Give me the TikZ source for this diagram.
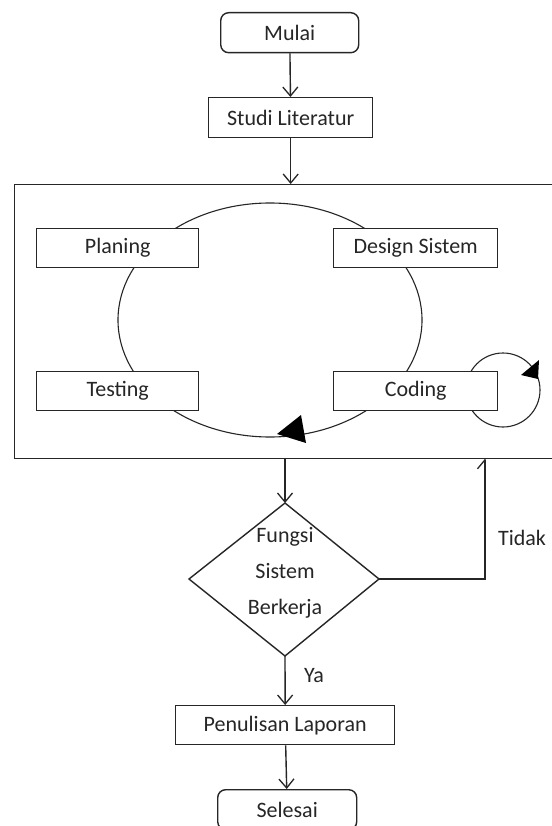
\documentclass[tikz,border=0pt]{standalone}
\usepackage{fontspec}
\setmainfont{Carlito}
\usetikzlibrary{arrows.meta}
\begin{document}
\begin{tikzpicture}[x=1pt,y=-1pt,
  line width=1.4pt, draw=black!85,
  every node/.style={font=\fontsize{22}{26}\selectfont, text=black!85},
  box/.style={draw, fill=white, inner sep=0pt, anchor=north west},
  term/.style={box, rounded corners=8pt},
  cycleline/.style={line width=1.1pt},
  flow/.style={-{Straight Barb[length=9pt,width=15pt,line width=1.3pt]}},
  back/.style={-{Straight Barb[length=9pt,width=15pt,line width=1.3pt,harpoon]}},
  head/.style={fill=black, draw=none}
]
\useasboundingbox (0,0) rectangle (551,826);
\fill[white] (0,0) rectangle (551,826);

% main flow boxes
\node[term, minimum width=138pt, minimum height=40pt] (mulai) at (220,12) {Mulai};
\node[box, minimum width=164pt, minimum height=40pt] (studi) at (208,97) {Studi Literatur};

% process frame (runs past the right edge)
\node[box, fill=none, minimum width=560pt, minimum height=274pt] (frame) at (14,184) {};

% development cycle
\draw[cycleline] (270,320) ellipse [x radius=152, y radius=117];
\draw[cycleline] (503,390) circle [radius=37];
\fill[head] (277,434) -- (301,415) -- (306,443) -- cycle;
\fill[head] (521,375) -- (539,360) -- (538,379) -- cycle;

\node[box, minimum width=162pt, minimum height=39pt] (plan) at (36,228) {Planing};
\node[box, minimum width=164pt, minimum height=39pt] (design) at (333,228) {Design Sistem};
\node[box, minimum width=162pt, minimum height=39pt] (test) at (36,371) {Testing};
\node[box, minimum width=164pt, minimum height=39pt] (code) at (333,371) {Coding};

% decision
\coordinate (dtop) at (285,503);
\coordinate (dright) at (379,579);
\coordinate (dbot) at (285,656);
\coordinate (dleft) at (189,579);
\draw (dtop) -- (dright) -- (dbot) -- (dleft) -- cycle;
\node[align=center, font=\fontsize{22}{36}\selectfont] (dec) at (285,573) {Fungsi\\Sistem\\Berkerja};

\node[box, minimum width=219pt, minimum height=39pt] (lapor) at (175,705) {Penulisan Laporan};
\node[term, minimum width=139pt, minimum height=40pt] (selesai) at (217,789) {Selesai};

% connectors
\draw[flow] (mulai) -- (studi);
\draw[flow] (studi) -- (studi |- frame.north);
\draw[flow] (dtop |- frame.south) -- (dtop);
\coordinate (ret) at (485,458);
\draw[back] (dright) -| (ret);
\draw[flow] (dbot) -- (lapor);
\draw[flow] (lapor) -- (selesai);

% branch labels
\node (tidak) at (522,538) {Tidak};
\node (ya) at (314,676) {Ya};
\end{tikzpicture}
\end{document}
